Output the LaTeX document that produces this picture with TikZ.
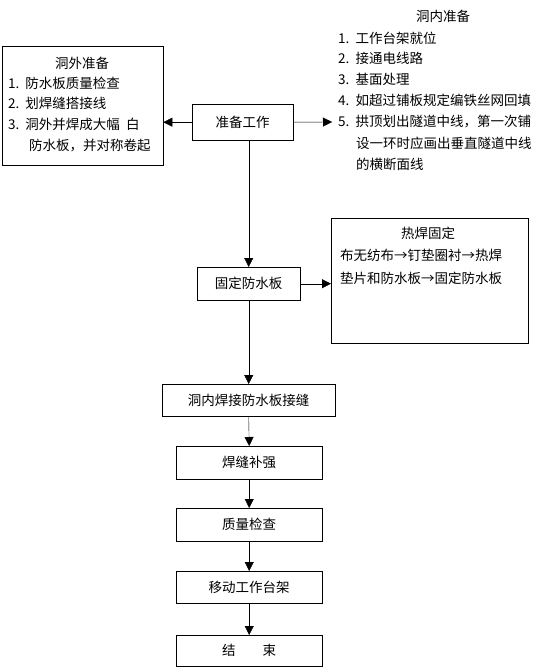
\documentclass[tikz,border=0pt]{standalone}
\usepackage{fontspec}
\setmainfont{Noto Sans CJK SC}
\usetikzlibrary{arrows.meta}
\begin{document}
\begin{tikzpicture}[x=1pt,y=-1pt,font=\fontsize{13.5}{16}\selectfont,
  box/.style={draw, inner sep=0, anchor=north west},
  txt/.style={inner sep=0, anchor=west},
  arr/.style={-{Triangle[length=9pt,width=9pt]}}]
  \useasboundingbox (0,0) rectangle (552,668);
  \node[box, minimum width=161, minimum height=119] (outbox) at (2,46) {};
  \node[inner sep=0] (outtitle) at (82,63) {洞外准备};
  \node[txt] (out1) at (8,83) {1.\ \ 防水板质量检查};
  \node[txt] (out2) at (8,103) {2.\ \ 划焊缝搭接线};
  \node[txt] (out3) at (8,124) {3.\ \ 洞外并焊成大幅\ \ 白};
  \node[txt] (out3b) at (29,146) {防水板，并对称卷起};
  \node[box, minimum width=101, minimum height=36] (prep) at (192,104) {准备工作};
  \node[inner sep=0] (intitle) at (443,16) {洞内准备};
  \node[txt] (in1) at (338,38) {1.\ \ 工作台架就位};
  \node[txt] (in2) at (338,58) {2.\ \ 接通电线路};
  \node[txt] (in3) at (338,79) {3.\ \ 基面处理};
  \node[txt] (in4) at (338,100) {4.\ \ 如超过铺板规定编铁丝网回填};
  \node[txt] (in5) at (338,122) {5.\ \ 拱顶划出隧道中线，第一次铺};
  \node[txt] (in5b) at (356,143) {设一环时应画出垂直隧道中线};
  \node[txt] (in5c) at (356,164) {的横断面线};
  \coordinate (inleft) at (332,122);
  \node[box, minimum width=103, minimum height=33] (fix) at (197,267) {固定防水板};
  \node[box, minimum width=197, minimum height=125] (heat) at (331,218) {};
  \node[inner sep=0] (heattitle) at (428,233) {热焊固定};
  \node[txt] (heat1) at (340,255) {布无纺布→钉垫圈衬→热焊};
  \node[txt] (heat2) at (340,278) {垫片和防水板→固定防水板};
  \node[box, minimum width=173, minimum height=32] (weld) at (162,384) {洞内焊接防水板接缝};
  \node[box, minimum width=146, minimum height=33] (reinf) at (176,446) {焊缝补强};
  \node[box, minimum width=146, minimum height=33] (check) at (176,508) {质量检查};
  \node[box, minimum width=146, minimum height=32] (move) at (176,571) {移动工作台架};
  \node[box, minimum width=146, minimum height=31] (finish) at (176,635) {结\qquad 束};
  \draw[arr] (prep.west) -- (prep.west -| outbox.east);
  \draw[arr] (prep.east) -- (inleft);
  \draw[arr] (prep.south -| fix.north) -- (fix.north);
  \draw[arr] (fix.east) -- (fix.east -| heat.west);
  \draw[arr] (fix.south) -- (weld.north);
  \draw[arr] (weld.south) -- (reinf.north);
  \draw[arr] (reinf.south) -- (check.north);
  \draw[arr] (check.south) -- (move.north);
  \draw[arr] (move.south) -- (finish.north);
\end{tikzpicture}
\end{document}
